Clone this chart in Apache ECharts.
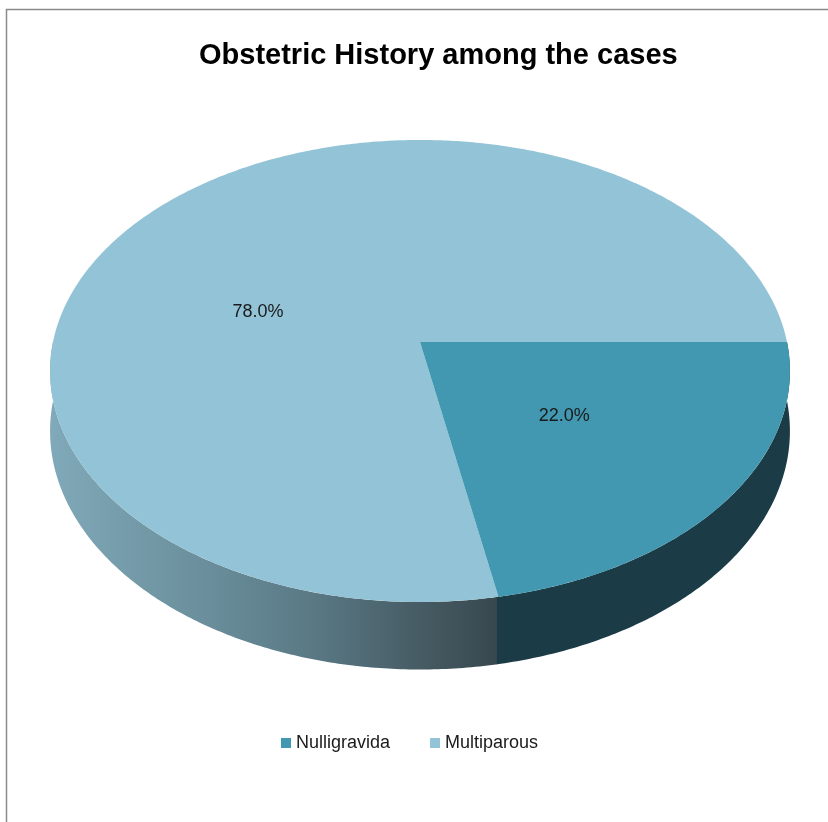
<!DOCTYPE html>
<html>
<head>
<meta charset="utf-8">
<script src="https://cdn.jsdelivr.net/npm/echarts@6/dist/echarts.min.js"></script>
<style>
  html, body { margin: 0; padding: 0; background: #ffffff; }
  #chart { width: 828px; height: 822px; }
</style>
</head>
<body>
<div id="chart"></div>
<script>
// ---- data ----
const categories = ['Nulligravida', 'Multiparous'];
const values = [22.0, 78.0];
const chartTitle = 'Obstetric History among the cases';

// ---- styles ----
const topColors = ['#4198B0', '#93C3D7'];
const sideGradients = [
  [['#1B3C47', 0], ['#1B3C47', 1]],
  [['#80A9B9', 0], ['#6A8E9B', 0.35], ['#587783', 0.6], ['#445860', 0.85], ['#37474E', 1]]
];
const labelShift = [[-3, -1], [-26, 40]];
const CX = 420, CY = 342, RX = 367, RY = 227.4, PERSP = 0.1255, DEPTH = 59;
const SEAM = 0.004;
const FONT = '"Liberation Sans", Arial, sans-serif';

const total = values.reduce((a, b) => a + b, 0);

function project(theta, r, h) {
  const u = Math.cos(theta) * r, v = Math.sin(theta) * r;
  const s = 1 / (1 - PERSP * v);
  return [CX + RX * u * s, CY + RY * v * s + DEPTH * h * s];
}

function arcPts(a0, a1, h) {
  const n = Math.max(2, Math.ceil(Math.abs(a1 - a0) / 0.01));
  const pts = [];
  for (let k = 0; k <= n; k++) {
    pts.push(project(a0 + (a1 - a0) * k / n, 1, h));
  }
  return pts;
}

function makeRender(i) {
  return function (params, api) {
    let before = 0;
    for (let j = 0; j < i; j++) before += values[j];
    const val = api.value(0);
    const a0 = before / total * Math.PI * 2;
    const a1 = (before + val) / total * Math.PI * 2;
    const children = [];
    // front side (visible part between 0 and PI), slightly overlapped to hide seams
    const s0 = Math.max(a0 - SEAM, 0), s1 = Math.min(a1 + SEAM, Math.PI);
    if (s1 > s0) {
      const topEdge = arcPts(s0, s1, 0);
      const botEdge = arcPts(s0, s1, 1).reverse();
      const pts = topEdge.concat(botEdge);
      let minX = Infinity, maxX = -Infinity;
      pts.forEach(p => { minX = Math.min(minX, p[0]); maxX = Math.max(maxX, p[0]); });
      children.push({
        type: 'polygon',
        shape: { points: pts },
        z2: 1,
        style: {
          fill: {
            type: 'linear', x: minX, y: 0, x2: maxX, y2: 0, global: true,
            colorStops: sideGradients[i].map(cs => ({ offset: cs[1], color: cs[0] }))
          },
          stroke: null
        }
      });
    }
    // top face
    const topPts = [project(0, 0, 0)].concat(arcPts(a0, a1, 0));
    children.push({
      type: 'polygon',
      shape: { points: topPts },
      z2: 5,
      style: { fill: api.visual('color'), stroke: null }
    });
    // label
    const mid = (a0 + a1) / 2;
    const lp = project(mid, 0.5, 0);
    children.push({
      type: 'text',
      z2: 10,
      style: {
        text: (val / total * 100).toFixed(1) + '%',
        x: lp[0] + labelShift[i][0],
        y: lp[1] + labelShift[i][1],
        align: 'center',
        verticalAlign: 'middle',
        fill: '#1a1a1a',
        font: '18px ' + FONT
      }
    });
    return { type: 'group', children: children };
  };
}

const chart = echarts.init(document.getElementById('chart'), null, { renderer: 'canvas' });
chart.setOption({
  backgroundColor: '#ffffff',
  animation: false,
  title: {
    text: chartTitle,
    left: 199,
    top: 41,
    padding: 0,
    textStyle: {
      fontFamily: FONT,
      fontWeight: 'bold',
      fontSize: 29,
      color: '#000000'
    }
  },
  legend: {
    data: categories,
    left: 281,
    top: 734,
    padding: 0,
    icon: 'rect',
    itemWidth: 10,
    itemHeight: 10,
    itemGap: 40,
    textStyle: { fontFamily: FONT, fontSize: 18, color: '#1a1a1a' }
  },
  graphic: [{
    type: 'polyline',
    shape: { points: [[6.5, 830], [6.5, 9.5], [830, 9.5]] },
    style: { stroke: '#8a8a8a', lineWidth: 1.5, fill: null },
    silent: true
  }],
  series: categories.map((name, i) => ({
    type: 'custom',
    name: name,
    coordinateSystem: 'none',
    renderItem: makeRender(i),
    itemStyle: { color: topColors[i] },
    z: i === 0 ? 3 : 2,
    data: [[values[i]]]
  }))
});
</script>
</body>
</html>
